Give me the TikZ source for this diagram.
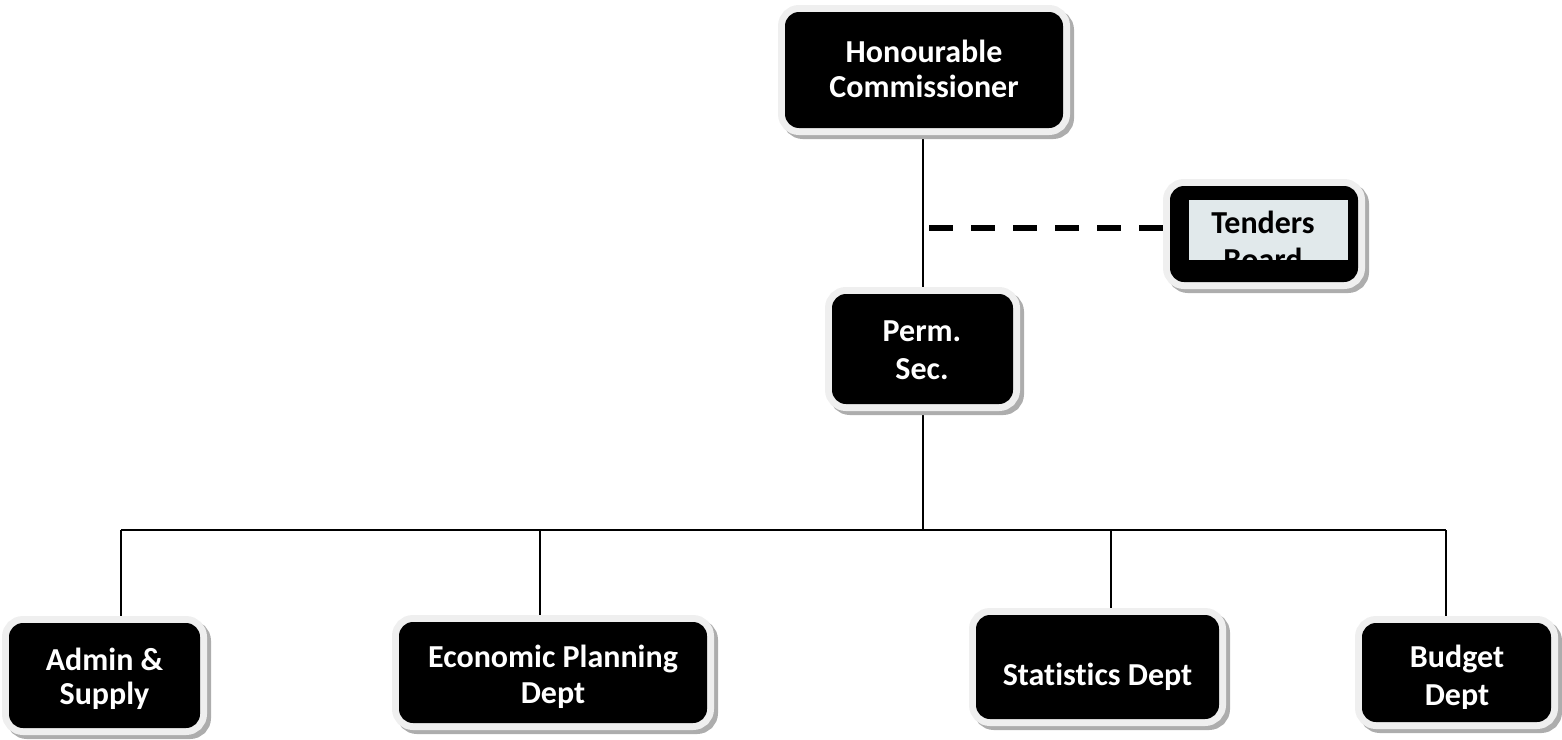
\documentclass[tikz,border=0pt]{standalone}
\usepackage{fontspec}
\setmainfont{Carlito}[Ligatures={NoCommon}]
\usetikzlibrary{backgrounds}
\definecolor{shadowgray}{HTML}{ADADAD}
\definecolor{rimwhite}{HTML}{EFEFEF}
\definecolor{panelfill}{HTML}{E1E9EB}
\begin{document}
\begin{tikzpicture}[x=1pt,y=-1pt,
  orgbox/.style={rectangle, rounded corners=14pt, fill=black, inner sep=0pt,
    preaction={fill=shadowgray, draw=shadowgray, line width=14pt,
      transform canvas={shift={(4pt,-4pt)}}},
    preaction={draw=rimwhite, line width=14pt}},
  lbl/.style={anchor=base, inner sep=0pt, text=white,
    font=\bfseries\fontsize{32}{38}\selectfont},
  conn/.style={line width=2pt, draw=black},
  dashconn/.style={line width=6pt, draw=black, dash pattern=on 24pt off 18pt}]
\useasboundingbox (0,0) rectangle (1562,739);

% boxes
\node[orgbox, minimum width=278pt, minimum height=116pt] (hon) at (924,70) {};
\node[orgbox, minimum width=181pt, minimum height=110pt] (perm) at (922.5,349) {};
\node[orgbox, minimum width=188pt, minimum height=96pt] (tend) at (1264,234) {};
\node[fill=panelfill, inner sep=0pt, minimum width=159pt, minimum height=60pt] (tpanel) at (1268.5,230) {};
\node[orgbox, minimum width=191pt, minimum height=105pt] (admin) at (104.5,675.5) {};
\node[orgbox, minimum width=308pt, minimum height=101pt] (econ) at (553,672.5) {};
\node[orgbox, minimum width=243pt, minimum height=104pt] (stat) at (1097.5,667) {};
\node[orgbox, minimum width=189pt, minimum height=99pt] (budg) at (1456.5,672.5) {};

% labels
\node[lbl] (hon1) at (924,62) {Honourable};
\node[lbl] (hon2) at (924,97) {Commissioner};
\node[lbl] (perm1) at (922,341) {Perm.};
\node[lbl] (perm2) at (922,379) {Sec.};
\begin{scope}
  \clip (tpanel.south west) rectangle (tpanel.north east);
  \node[lbl, text=black] (tend1) at (1263,233) {Tenders};
  \node[lbl, text=black] (tend2) at (1263,270) {Board};
\end{scope}
\node[lbl] (adm1) at (104.5,670) {Admin \&};
\node[lbl] (adm2) at (104.5,704) {Supply};
\begin{scope}
  \clip (399,600) rectangle (707,709);
  \node[lbl] (eco1) at (553,667) {Economic Planning};
  \node[lbl] (eco2) at (553,703) {Dept};
\end{scope}
\node[lbl] (stat1) at (1097.5,685) {Statistics Dept};
\begin{scope}
  \clip (1362,600) rectangle (1551,708);
  \node[lbl] (bud1) at (1457,667) {Budget};
  \node[lbl] (bud2) at (1457,705) {Dept};
\end{scope}

% connectors
\coordinate (busL) at (121,530);
\coordinate (busR) at (1446,530);
\coordinate (dropE) at (540,530);
\coordinate (dropS) at (1111,530);
\coordinate (dashL) at (929,228);
\begin{scope}[on background layer]
  \draw[conn] (perm.north) -- (perm.north |- hon.south);
  \draw[conn] (perm.south) -- (perm.south |- busL);
  \draw[conn] (busL) -- (busR);
  \draw[conn] (busL) -- (busL |- admin.north);
  \draw[conn] (dropE) -- (dropE |- econ.north);
  \draw[conn] (dropS) -- (dropS |- stat.north);
  \draw[conn] (busR) -- (busR |- budg.north);
  \draw[dashconn] (dashL) -- (dashL -| tend.west);
\end{scope}
\end{tikzpicture}
\end{document}
